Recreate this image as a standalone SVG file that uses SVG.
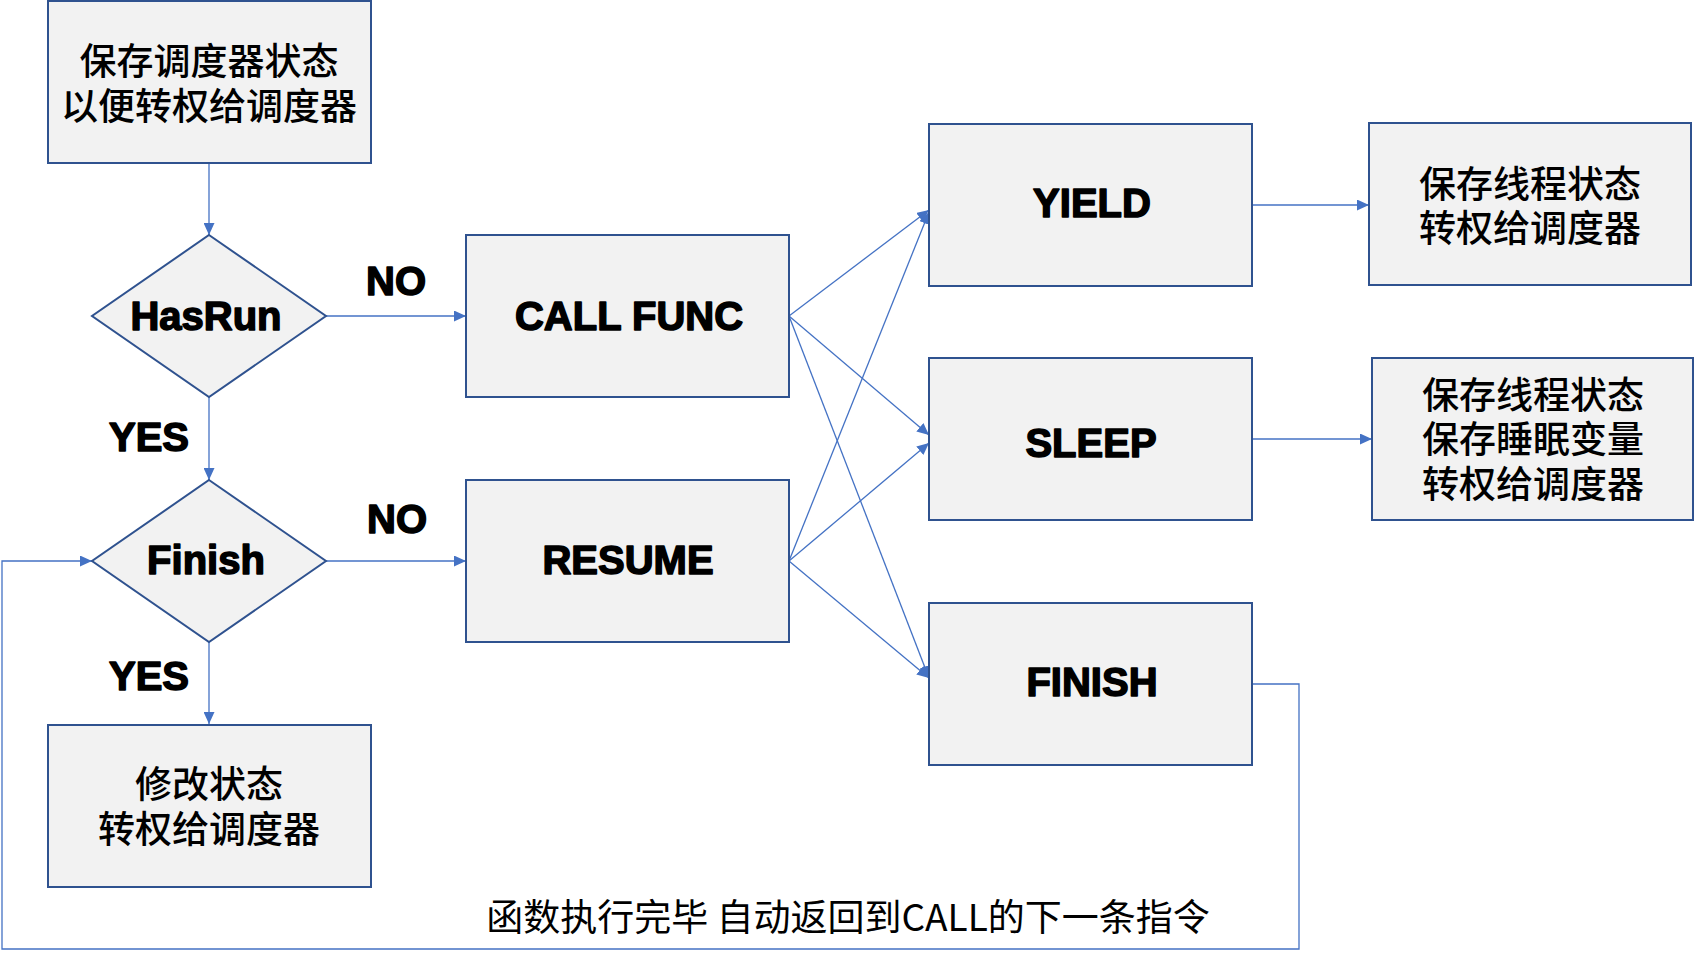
<svg xmlns="http://www.w3.org/2000/svg" width="1695" height="962" viewBox="0 0 1695 962">
<style>
.box{fill:#F2F2F2;stroke:#2F528F;stroke-width:2}
.lbl{font-family:"Liberation Sans",Arial,sans-serif;font-weight:bold;font-size:40px;fill:#000;stroke:#000;stroke-width:1.5;stroke-linejoin:round;text-anchor:middle}
.cjk{font-family:"Noto Sans CJK SC","Liberation Sans",sans-serif;font-size:37px;font-weight:500;fill:#000;text-anchor:middle}
.con{fill:none;stroke:#4472C4;stroke-width:1.3}
</style>
<defs>
<marker id="ah" markerUnits="userSpaceOnUse" markerWidth="12" markerHeight="11" refX="12" refY="5.5" orient="auto">
<path d="M0,0 L12,5.5 L0,11 z" fill="#4472C4"/>
</marker>
</defs>
<rect width="1695" height="962" fill="#fff"/>
<g id="connectors">
<path class="con" d="M209,163 L209,235" marker-end="url(#ah)"/>
<path class="con" d="M326,316 L466,316" marker-end="url(#ah)"/>
<path class="con" d="M209,397 L209,480" marker-end="url(#ah)"/>
<path class="con" d="M326,561 L466,561" marker-end="url(#ah)"/>
<path class="con" d="M209,642 L209,724" marker-end="url(#ah)"/>
<path class="con" d="M789,316 L929,210" marker-end="url(#ah)"/>
<path class="con" d="M789,316 L929,435" marker-end="url(#ah)"/>
<path class="con" d="M789,316 L929,678" marker-end="url(#ah)"/>
<path class="con" d="M789,561 L929,212" marker-end="url(#ah)"/>
<path class="con" d="M789,561 L929,443" marker-end="url(#ah)"/>
<path class="con" d="M789,561 L929,678" marker-end="url(#ah)"/>
<path class="con" d="M1252,205 L1369,205" marker-end="url(#ah)"/>
<path class="con" d="M1252,439 L1372,439" marker-end="url(#ah)"/>
<path class="con" d="M1252,684 L1299,684 L1299,949 L2,949 L2,561 L92,561" marker-end="url(#ah)"/>
</g>
<g id="save-scheduler">
<rect class="box" x="48" y="1" width="323" height="162"/>
<text class="cjk"><tspan x="209" y="75">保存调度器状态</tspan><tspan x="209" y="120">以便转权给调度器</tspan></text>
</g>
<g id="hasrun">
<polygon class="box" points="209,235 326,316 209,397 92,316"/>
<text class="lbl" x="206" y="330">HasRun</text>
</g>
<g id="finish-dec">
<polygon class="box" points="209,480 326,561 209,642 92,561"/>
<text class="lbl" x="206" y="574">Finish</text>
</g>
<g id="modify">
<rect class="box" x="48" y="725" width="323" height="162"/>
<text class="cjk"><tspan x="209" y="798">修改状态</tspan><tspan x="209" y="843">转权给调度器</tspan></text>
</g>
<g id="callfunc">
<rect class="box" x="466" y="235" width="323" height="162"/>
<text class="lbl" x="629" y="330">CALL FUNC</text>
</g>
<g id="resume">
<rect class="box" x="466" y="480" width="323" height="162"/>
<text class="lbl" x="628" y="574">RESUME</text>
</g>
<g id="yield">
<rect class="box" x="929" y="124" width="323" height="162"/>
<text class="lbl" x="1092" y="217">YIELD</text>
</g>
<g id="sleep">
<rect class="box" x="929" y="358" width="323" height="162"/>
<text class="lbl" x="1091" y="457">SLEEP</text>
</g>
<g id="finish">
<rect class="box" x="929" y="603" width="323" height="162"/>
<text class="lbl" x="1092" y="696">FINISH</text>
</g>
<g id="yield-action">
<rect class="box" x="1369" y="123" width="322" height="162"/>
<text class="cjk"><tspan x="1530" y="198">保存线程状态</tspan><tspan x="1530" y="242">转权给调度器</tspan></text>
</g>
<g id="sleep-action">
<rect class="box" x="1372" y="358" width="321" height="162"/>
<text class="cjk"><tspan x="1533" y="409">保存线程状态</tspan><tspan x="1533" y="453">保存睡眠变量</tspan><tspan x="1533" y="498">转权给调度器</tspan></text>
</g>
<g id="labels">
<text class="lbl" x="396" y="295">NO</text>
<text class="lbl" x="397" y="533">NO</text>
<text class="lbl" x="149" y="451">YES</text>
<text class="lbl" x="149" y="690">YES</text>
<text class="cjk" x="848" y="931" style="font-weight:normal">函数执行完毕 自动返回到CALL的下一条指令</text>
</g>
</svg>
